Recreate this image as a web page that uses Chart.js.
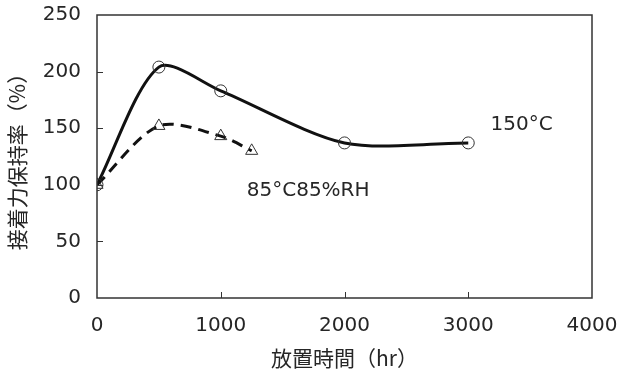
<!DOCTYPE html>
<html>
<head>
<meta charset="utf-8">
<script src="https://cdn.jsdelivr.net/npm/chart.js@4"></script>
<style>
  html, body { margin: 0; padding: 0; background: #fff; }
  #wrap { width: 623px; height: 376px; }
</style>
</head>
<body>
<div id="wrap"><canvas id="chart" width="623" height="376"></canvas></div>
<script>
// data
const hours150 = [0, 500, 1000, 2000, 3000];
const retention150 = [100, 204, 183, 137, 137];
const hours85 = [0, 500, 1000, 1250];
const retention85 = [100, 152, 143, 130];
const xTicks = [0, 1000, 2000, 3000, 4000];
const yTicks = [0, 50, 100, 150, 200, 250];
const seriesNames = ['150°C', '85°C85%RH'];

const latin = '"DejaVu Sans", Verdana, sans-serif';
const cjk = '"Noto Sans CJK JP", "DejaVu Sans", sans-serif';
const ink = '#262626';

const toPoints = (xs, ys) => xs.map((x, i) => ({ x: x, y: ys[i] }));

// frame around the plot area plus short inward ticks, and series labels
const framePlugin = {
    id: 'frame',
    afterDraw(chart) {
        const ctx = chart.ctx;
        const a = chart.chartArea;
        const xs = chart.scales.x;
        const ys = chart.scales.y;
        ctx.save();
        ctx.strokeStyle = '#333';
        ctx.lineWidth = 1.5;
        ctx.strokeRect(a.left, a.top, a.right - a.left, a.bottom - a.top);
        ctx.lineWidth = 1;
        ctx.beginPath();
        xTicks.slice(1, -1).forEach(v => {
            const px = Math.round(xs.getPixelForValue(v)) + 0.5;
            ctx.moveTo(px, a.bottom);
            ctx.lineTo(px, a.bottom - 6);
        });
        yTicks.slice(1, -1).forEach(v => {
            const py = Math.round(ys.getPixelForValue(v)) + 0.5;
            ctx.moveTo(a.left, py);
            ctx.lineTo(a.left + 6, py);
        });
        ctx.stroke();

        ctx.fillStyle = ink;
        ctx.font = '20px ' + latin;
        ctx.textBaseline = 'middle';
        ctx.textAlign = 'left';
        ctx.fillText(seriesNames[0], xs.getPixelForValue(3180), ys.getPixelForValue(153));
        ctx.fillText(seriesNames[1], xs.getPixelForValue(1210), ys.getPixelForValue(95));
        ctx.restore();
    }
};

// invisible tick marks keep the labels off the axis without inflating the chart padding
const hiddenGrid = { display: true, drawOnChartArea: false, drawTicks: true, tickLength: 13, color: 'rgba(0,0,0,0)' };

new Chart(document.getElementById('chart'), {
    type: 'line',
    data: {
        datasets: [{
            label: seriesNames[0],
            data: toPoints(hours150, retention150),
            borderColor: '#111',
            borderWidth: 3,
            tension: 0.28,
            pointStyle: 'circle',
            pointRadius: 6,
            pointBorderWidth: 1,
            pointBorderColor: '#333',
            pointBackgroundColor: 'rgba(0,0,0,0)'
        }, {
            label: seriesNames[1],
            data: toPoints(hours85, retention85),
            borderColor: '#111',
            borderWidth: 3,
            borderDash: [11, 7],
            tension: 0.3,
            pointStyle: 'triangle',
            pointRadius: 7,
            pointBorderWidth: 1,
            pointBorderColor: '#333',
            pointBackgroundColor: 'rgba(0,0,0,0)'
        }]
    },
    options: {
        responsive: false,
        animation: false,
        events: [],
        layout: { autoPadding: false, padding: { left: 0, right: 31, top: 14, bottom: 0 } },
        plugins: {
            legend: { display: false },
            tooltip: { enabled: false }
        },
        scales: {
            x: {
                type: 'linear',
                min: 0,
                max: 4000,
                afterBuildTicks: s => { s.ticks = xTicks.map(v => ({ value: v })); },
                afterFit: s => { s.height = 78; },
                grid: hiddenGrid,
                border: { display: false },
                ticks: {
                    padding: 3,
                    color: ink,
                    font: { family: latin, size: 20 },
                    maxRotation: 0,
                    callback: v => String(v)
                },
                title: {
                    display: true,
                    text: '放置時間（hr）',
                    color: ink,
                    font: { family: cjk, size: 21 },
                    padding: { top: 4, bottom: 5 }
                }
            },
            y: {
                min: 0,
                max: 250,
                afterBuildTicks: s => { s.ticks = yTicks.map(v => ({ value: v })); },
                afterFit: s => { s.width = 97; },
                grid: hiddenGrid,
                border: { display: false },
                ticks: {
                    padding: 3,
                    color: ink,
                    font: { family: latin, size: 20 }
                },
                title: {
                    display: true,
                    text: '接着力保持率（%）',
                    color: ink,
                    font: { family: cjk, size: 21 },
                    padding: { bottom: 2 }
                }
            }
        }
    },
    plugins: [framePlugin]
});
</script>
</body>
</html>
